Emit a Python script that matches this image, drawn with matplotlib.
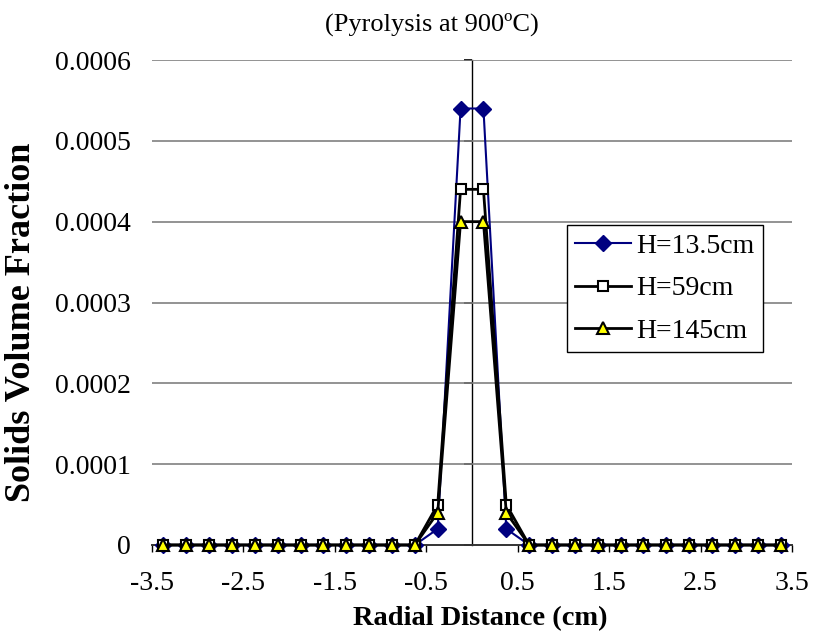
import matplotlib
matplotlib.use("Agg")
import matplotlib.pyplot as plt

# radial positions (cm)
radial = [-3.375, -3.125, -2.875, -2.625, -2.375, -2.125, -1.875, -1.625,
          -1.375, -1.125, -0.875, -0.625, -0.375, -0.125, 0.125, 0.375,
          0.625, 0.875, 1.125, 1.375, 1.625, 1.875, 2.125, 2.375,
          2.625, 2.875, 3.125, 3.375]

# solids volume fraction per height
h_13_5 = [0, 0, 0, 0, 0, 0, 0, 0, 0, 0, 0, 0,
          0.00002, 0.00054, 0.00054, 0.00002,
          0, 0, 0, 0, 0, 0, 0, 0, 0, 0, 0, 0]
h_59 = [0, 0, 0, 0, 0, 0, 0, 0, 0, 0, 0, 0,
        0.00005, 0.00044, 0.00044, 0.00005,
        0, 0, 0, 0, 0, 0, 0, 0, 0, 0, 0, 0]
h_145 = [0, 0, 0, 0, 0, 0, 0, 0, 0, 0, 0, 0,
         0.00004, 0.00040, 0.00040, 0.00004,
         0, 0, 0, 0, 0, 0, 0, 0, 0, 0, 0, 0]

x_ticks = [-3.5, -2.5, -1.5, -0.5, 0.5, 1.5, 2.5, 3.5]
y_ticks = [0, 0.0001, 0.0002, 0.0003, 0.0004, 0.0005, 0.0006]
y_ticklabels = ["0", "0.0001", "0.0002", "0.0003", "0.0004", "0.0005", "0.0006"]

plt.rcParams["font.family"] = "Liberation Serif"

W, H = 815, 637
fig = plt.figure(figsize=(W / 100, H / 100), dpi=100)
ax = fig.add_axes([152 / W, 1 - 545 / H, 640 / W, 485 / H])

ax.plot(radial, h_13_5, color="#000080", lw=1.5, marker="D", ms=8,
        mfc="#000080", mec="#000080", label="H=13.5cm", clip_on=False, zorder=3)
ax.plot(radial, h_59, color="black", lw=2, marker="s", ms=7,
        mfc="white", mec="black", mew=1.5, label="H=59cm", clip_on=False, zorder=4)
ax.plot(radial, h_145, color="black", lw=2, marker="^", ms=9,
        mfc="#ffff00", mec="black", mew=1.5, label="H=145cm", clip_on=False, zorder=5)

ax.set_xlim(-3.5, 3.5)
ax.set_ylim(0, 0.0006)
ax.set_xticks(x_ticks)
ax.set_xticklabels([f"{t:g}" for t in x_ticks])
ax.set_yticks(y_ticks)
ax.set_yticklabels(y_ticklabels)

for side in ("left", "right", "top"):
    ax.spines[side].set_visible(False)
ax.spines["bottom"].set_color("#333333")
ax.spines["bottom"].set_linewidth(1.4)

ax.tick_params(axis="x", direction="out", length=5, width=1, pad=14, labelsize=20)
ax.tick_params(axis="y", length=0, pad=15, labelsize=20)

for t in y_ticks[1:]:
    ax.axhline(t, color="#808080", lw=1.2, zorder=1)

# vertical axis crossing at x = 0
yax = ax.secondary_yaxis(0.5)
yax.set_yticks(y_ticks)
yax.set_yticklabels([])
yax.tick_params(direction="in", length=6, width=1.2)
for sp in yax.spines.values():
    sp.set_linewidth(1)

fig.text(432 / W, 1 - 24 / H, "(Pyrolysis at 900\u00baC)", fontsize=19,
         ha="center", va="center")
fig.text(480 / W, 1 - 619 / H, "Radial Distance (cm)", fontsize=20.5,
         fontweight="bold", ha="center", va="center")
fig.text(22 / W, 1 - 322 / H, "Solids Volume Fraction", fontsize=26,
         fontweight="bold", rotation=90, ha="center", va="center")

leg = ax.legend(loc="upper left", bbox_to_anchor=(567 / W, 1 - 225 / H),
                bbox_transform=fig.transFigure, fontsize=20, frameon=True,
                fancybox=False, edgecolor="black", framealpha=1,
                handlelength=2.0, handletextpad=0.2, labelspacing=0.62,
                borderpad=0.3, borderaxespad=0)
leg.get_frame().set_linewidth(1)

fig.savefig("out.png", dpi=100)
